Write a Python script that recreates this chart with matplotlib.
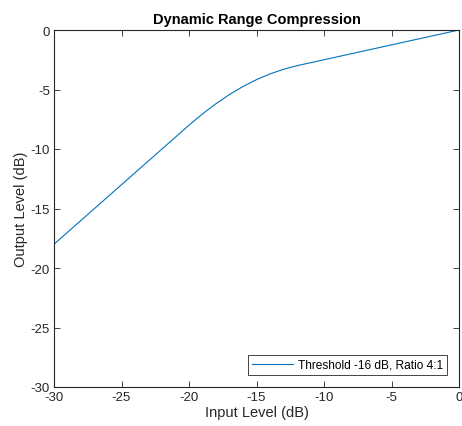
import matplotlib
matplotlib.use("Agg")
import matplotlib.pyplot as plt

# Data
input_db = [-30, -25, -20, -19, -18, -17, -16, -15, -14, -13, -12, -10, -5, 0]
output_db = [-18, -13, -8, -7.05, -6.19, -5.42, -4.75, -4.17, -3.69, -3.30, -3.0, -2.5, -1.25, 0]
xticks = [-30, -25, -20, -15, -10, -5, 0]
yticks = [-30, -25, -20, -15, -10, -5, 0]

plt.rcParams['font.family'] = ['Liberation Sans', 'DejaVu Sans']

fig = plt.figure(figsize=(4.62, 4.27), dpi=100)
ax = fig.add_axes([54/462, 1 - 388/427, (459 - 54)/462, (388 - 31)/427])

ax.plot(input_db, output_db, color='#0072BD', lw=0.8, label='Threshold -16 dB, Ratio 4:1')
ax.set_xlim(-30, 0)
ax.set_ylim(-30, 0)
ax.set_xticks(xticks)
ax.set_yticks(yticks)
ax.set_xticklabels([str(t) for t in xticks])
ax.set_yticklabels([str(t) for t in yticks])

edge = '#262626'
for s in ax.spines.values():
    s.set_color(edge)
    s.set_linewidth(0.8)
ax.tick_params(direction='in', top=True, right=True, length=4, width=0.6,
               colors=edge, labelsize=9.5, pad=3)

ax.set_xlabel('Input Level (dB)', fontsize=10.5, color=edge, labelpad=1)
ax.set_ylabel('Output Level (dB)', fontsize=10.5, color=edge, labelpad=2)
ax.set_title('Dynamic Range Compression', fontsize=10.5, fontweight='bold', color='black', pad=5)

leg = ax.legend(loc='lower right', fontsize=8.6, frameon=True, fancybox=False,
                edgecolor=edge, framealpha=1, borderpad=0.35, handlelength=3.4,
                handletextpad=0.4, borderaxespad=1.0)
leg.get_frame().set_linewidth(0.6)

fig.savefig('out.png', dpi=100)
